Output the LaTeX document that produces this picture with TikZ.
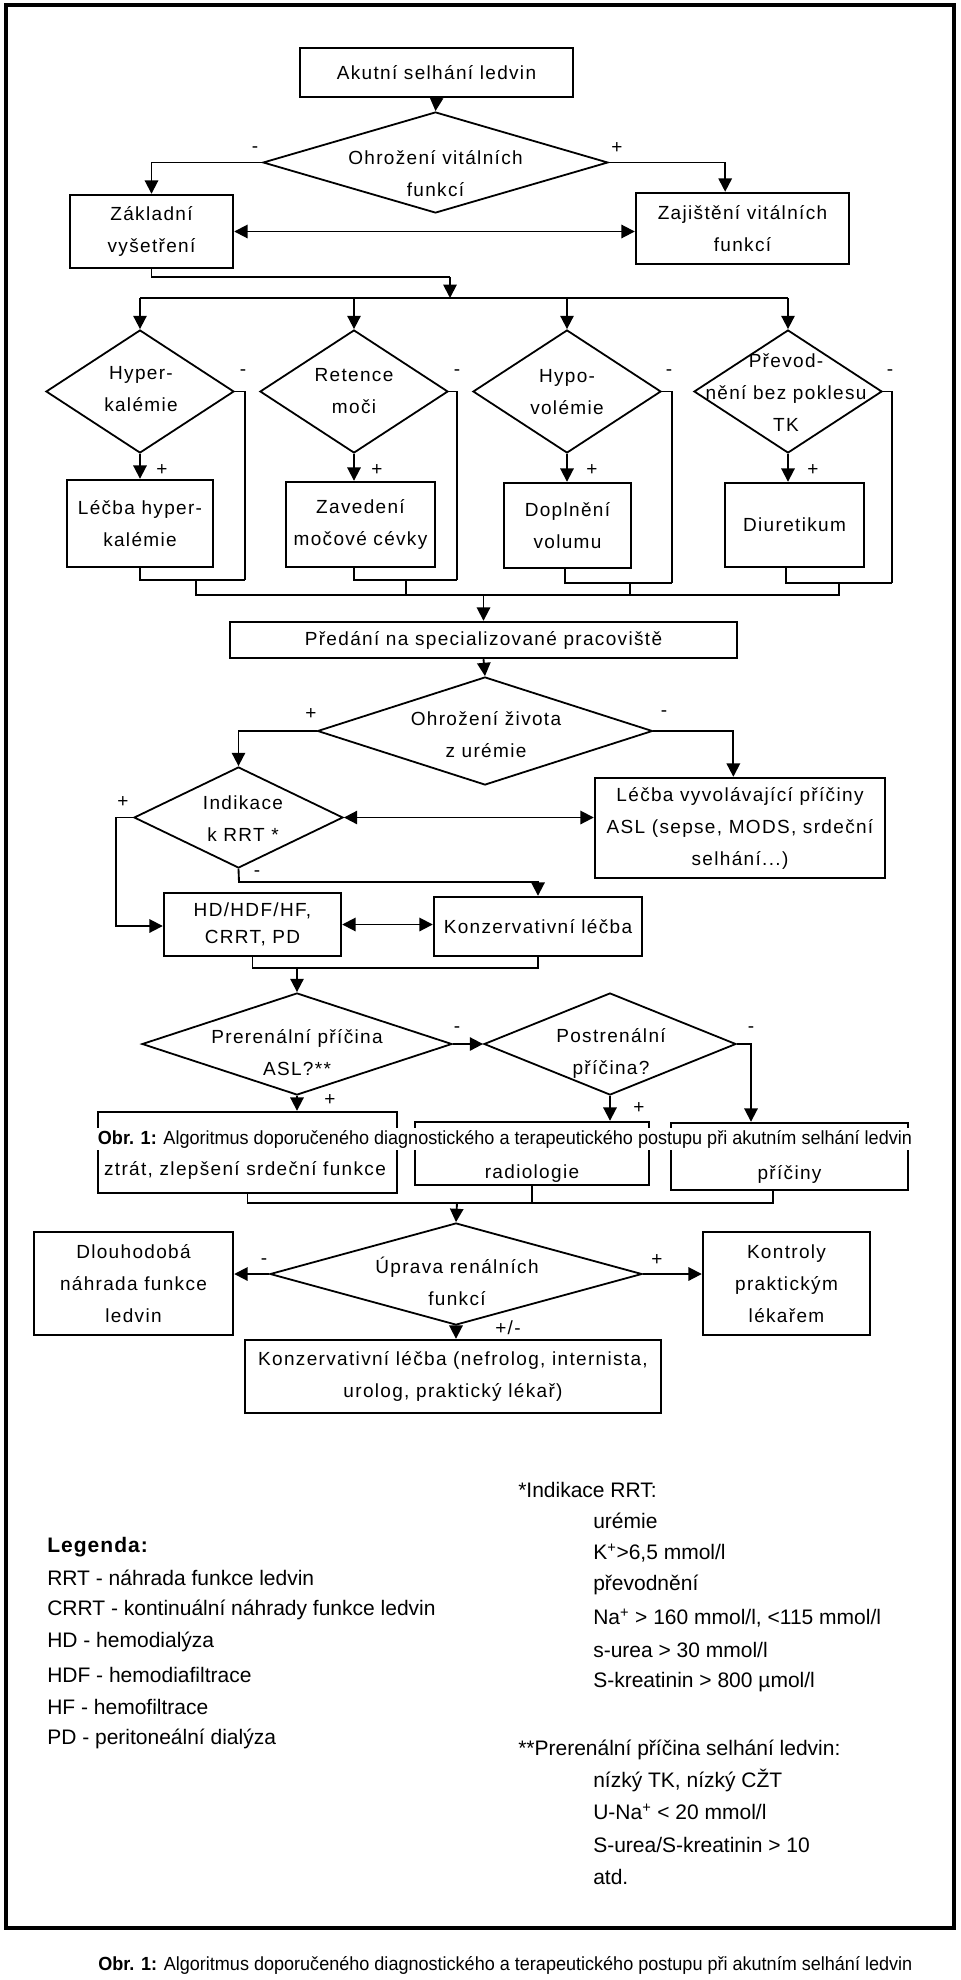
\documentclass[tikz,border=0pt]{standalone}
\usepackage{fontspec}
\setmainfont{Liberation Sans}
\newfontfamily\chartfam{Liberation Sans}[LetterSpace=7]
\newfontfamily\capfam{Liberation Sans}[FakeStretch=0.95]
\usetikzlibrary{shapes.geometric,arrows.meta}
\newcommand\chartfnt{\chartfam\fontsize{14.25pt}{24pt}\selectfont}
\newcommand\charttight{\chartfam\fontsize{14.25pt}{20pt}\selectfont}
\newcommand\legfnt{\fontsize{15.75pt}{20pt}\selectfont}
\newcommand\capfnt{\capfam\fontsize{14.25pt}{18pt}\selectfont}
\begin{document}
\begin{tikzpicture}[x=0.75pt,y=-0.75pt,
  bx/.style 2 args={draw, rectangle, line width=1.8pt, minimum width=#1*0.75pt, minimum height=#2*0.75pt, inner sep=0pt, align=center, font=\chartfnt},
  dia/.style 2 args={draw, diamond, line width=1.35pt, minimum width=#1*0.75pt, minimum height=#2*0.75pt, inner sep=0pt},
  dtx/.style={align=center, font=\chartfnt, inner sep=0pt},
  lbl/.style={font=\chartfnt, inner sep=0pt},
  con/.style={line width=1.4pt},
  arr/.style={con, -{Triangle[length=10pt,width=10pt]}},
  dar/.style={con, {Triangle[length=10pt,width=10pt]}-{Triangle[length=10pt,width=10pt]}},
  leg/.style={anchor=west, font=\legfnt, inner sep=0pt},
  capn/.style={font=\capfnt, inner sep=0pt}]
\useasboundingbox (0,0) rectangle (960,1980);
\fill[white] (0,0) rectangle (960,1980);
\draw[line width=3pt] (5.5,5.5) rectangle (954,1928);

% --- top part
\node[bx={273}{49}] (akut) at (436.5,72.5) {Akutní selhání ledvin};
\node[dia={345}{101}] (d1) at (435.5,162.5) {};
\node[dtx] (d1t) at (435.5,174) {Ohrožení vitálních\\funkcí};
\node[bx={163}{73}] (zak) at (151.5,231.5) {Základní\\vyšetření};
\node[bx={213}{71}] (zaj) at (742.5,228.5) {Zajištění vitálních\\funkcí};
\node[lbl] (l1) at (255,150) {-};
\node[lbl] (l2) at (617,148) {+};
\draw[arr] (akut.south) -- (d1.north);
\draw[arr] (d1.west) -| (zak.north);
\draw[arr] (d1.east) -| ([xshift=-13pt]zaj.north);
\draw[dar] (zak.east) -- (zak.east -| zaj.west);

\coordinate (j1) at (450,277);
\coordinate (bus) at (450,298);
\coordinate (busL) at (140,298);
\coordinate (busR) at (788,298);
\draw[con] (zak.south) |- (j1);
\draw[arr] (j1) -- (bus);
\draw[con] (busL) -- (busR);

% --- row of diamonds
\node[dia={188}{123}] (hk) at (140,391.5) {};
\node[dia={188}{123}] (rm) at (354,391.5) {};
\node[dia={188}{123}] (hv) at (567,391.5) {};
\node[dia={188}{123}] (pr) at (788,391.5) {};
\node[dtx] (hkt) at (141,389) {Hyper-\\kalémie};
\node[dtx] (rmt) at (354,391) {Retence\\moči};
\node[dtx] (hvt) at (567,392) {Hypo-\\volémie};
\node[dtx] (prt) at (786,393) {Převod-\\nění bez poklesu\\TK};
\draw[arr] (busL) -- (hk.north);
\draw[arr] (rm.north |- busL) -- (rm.north);
\draw[arr] (hv.north |- busL) -- (hv.north);
\draw[arr] (busR) -- (pr.north);

\node[lbl] (m1t) at (243,373) {-};
\node[lbl] (m2t) at (457,373) {-};
\node[lbl] (m3t) at (669,373) {-};
\node[lbl] (m4t) at (890,373) {-};
\node[lbl] (p1t) at (162,470) {+};
\node[lbl] (p2t) at (377,470) {+};
\node[lbl] (p3t) at (592,470) {+};
\node[lbl] (p4t) at (813,470) {+};

\node[bx={146}{87}] (lh) at (140,523.5) {Léčba hyper-\\kalémie};
\node[bx={149}{85}] (zc) at (360.5,524.5) {Zavedení\\močové cévky};
\node[bx={127}{85}] (dv) at (567.5,525.5) {Doplnění\\volumu};
\node[bx={139}{84}] (di) at (794.5,525) {Diuretikum};
\draw[arr] (hk.south) -- (hk.south |- lh.north);
\draw[arr] (rm.south) -- (rm.south |- zc.north);
\draw[arr] (hv.south) -- (hv.south |- dv.north);
\draw[arr] (pr.south) -- (pr.south |- di.north);

\coordinate (m1) at (245,580);
\coordinate (m2) at (457,580);
\coordinate (m3) at (672,583);
\coordinate (m4) at (892,583);
\draw[con] (hk.east) -| (m1);
\draw[con] (rm.east) -| (m2);
\draw[con] (hv.east) -| (m3);
\draw[con] (pr.east) -| (m4);
\draw[con] (lh.south) |- (m1);
\draw[con] ([xshift=-4.9pt]zc.south) |- (m2);
\draw[con] ([xshift=-2pt]dv.south) |- (m3);
\draw[con] ([xshift=-6.4pt]di.south) |- (m4);
\coordinate (b2L) at (196,595);
\coordinate (q2) at (406,595);
\coordinate (q3) at (630,595);
\coordinate (b2R) at (839,595);
\draw[con] (b2L |- m1) -- (b2L) -- (b2R) -- (b2R |- m4);
\draw[con] (q2 |- m2) -- (q2);
\draw[con] (q3 |- m3) -- (q3);

\node[bx={507}{36}] (pred) at (483.5,640) {Předání na specializované pracoviště};
\draw[arr] (pred.north |- b2L) -- (pred.north);

% --- uremia part
\node[dia={335}{108}] (d3) at (485,731) {};
\node[dtx] (d3t) at (486,735) {Ohrožení života\\z urémie};
\node[lbl] (l3) at (311,714) {+};
\node[lbl] (l4) at (664,714) {-};
\draw[arr] (pred.south) -- (d3.north);

\node[dia={209}{101}] (ik) at (238.5,817.5) {};
\node[dtx] (ikt) at (243,819) {Indikace\\k RRT *};
\node[bx={290}{100}] (lv) at (740,828) {Léčba vyvolávající příčiny\\ASL (sepse, MODS, srdeční\\selhání...)};
\draw[arr] (d3.west) -| (ik.north);
\draw[arr] (d3.east) -| ([xshift=-5pt]lv.north);
\draw[dar] (ik.east) -- (ik.east -| lv.west);

\node[bx={177}{63}, font=\charttight] (hd) at (252.5,924.5) {HD/HDF/HF,\\CRRT, PD};
\node[bx={208}{59}] (kl) at (538,926.5) {Konzervativní léčba};
\node[lbl] (l5) at (123,802) {+};
\node[lbl] (l6) at (257,874) {-};
\coordinate (k1) at (116,926);
\coordinate (k2) at (239,882);
\draw[arr] (ik.west) -| (k1) -- (k1 -| hd.west);
\draw[arr] (ik.south) -- (k2) -| (kl.north);
\draw[dar] (hd.east) -- (hd.east -| kl.west);

\coordinate (k3) at (297,968);
\draw[con] (hd.south) |- (kl.south |- k3) -- (kl.south);

% --- causes
\node[dia={310}{102}] (d4) at (297,1044) {};
\node[dtx] (d4t) at (297,1053) {Prerenální příčina\\ASL?**};
\node[dia={252}{102}] (d5) at (610,1044) {};
\node[dtx] (d5t) at (611,1053) {Postrenální\\příčina?};
\draw[arr] (k3) -- (d4.north);
\draw[arr] (d4.east) -- (d5.west);
\node[lbl] (l7) at (457,1030) {-};
\node[lbl] (l8) at (751,1030) {-};
\node[lbl] (l9) at (330,1100) {+};
\node[lbl] (l10) at (639,1108) {+};

\node[bx={299}{81}] (b1) at (247.5,1152.5) {};
\node[bx={234}{63}] (b2) at (532,1153.5) {};
\node[bx={237}{67}] (b3) at (789.5,1156.5) {};
\node[dtx] (b1t) at (245,1170) {ztrát, zlepšení srdeční funkce};
\node[dtx] (b2t) at (532,1174) {radiologie};
\node[dtx] (b3t) at (789.5,1174) {příčiny};
\coordinate (k4) at (751,1044);
\draw[arr] (d5.east) -- (k4) -- (k4 |- b3.north);
\draw[arr] (d4.south) -- (d4.south |- b1.north);
\draw[arr] (d5.south) -- (d5.south |- b2.north);

\coordinate (k5) at (457,1203);
\coordinate (k6) at (773,1203);
\draw[con] (b1.south) |- (k6) -- (k6 |- b3.south);
\draw[con] (b2.south) -- (b2.south |- k6);

\node[capn, fill=white, anchor=west, inner xsep=2pt, inner ysep=1.5pt] (cap1) at (95,1139) {\textbf{Obr. 1:} Algoritmus doporučeného diagnostického a terapeutického postupu při akutním selhání ledvin};

% --- renal recovery
\node[dia={372}{102}] (d6) at (456,1274) {};
\node[dtx] (d6t) at (457,1281) {Úprava renálních\\funkcí};
\draw[arr] (k5) -- (d6.north);
\node[bx={199}{103}] (dl) at (133.5,1283.5) {Dlouhodobá\\náhrada funkce\\ledvin};
\node[bx={167}{103}] (kp) at (786.5,1283.5) {Kontroly\\praktickým\\lékařem};
\draw[arr] (d6.west) -- (d6.west -| dl.east);
\draw[arr] (d6.east) -- (d6.east -| kp.west);
\node[lbl] (l11) at (264,1262) {-};
\node[lbl] (l12) at (657,1260) {+};
\node[lbl] (l13) at (508,1328) {+/-};
\node[bx={416}{73}] (kn) at (453,1376.5) {Konzervativní léčba (nefrolog, internista,\\urolog, praktický lékař)};
\draw[arr] (d6.south) -- (d6.south |- kn.north);

% --- legend
\node[leg] (lg0) at (47,1547) {\textbf{\addfontfeature{LetterSpace=5}Legenda:}};
\node[leg] (lg1) at (47,1578) {RRT - náhrada funkce ledvin};
\node[leg] (lg2) at (47,1610) {CRRT - kontinuální náhrady funkce ledvin};
\node[leg] (lg3) at (47,1642) {HD - hemodialýza};
\node[leg] (lg4) at (47,1675) {HDF - hemodiafiltrace};
\node[leg] (lg5) at (47,1707) {HF - hemofiltrace};
\node[leg] (lg6) at (47,1739) {PD - peritoneální dialýza};

\node[leg] (ri0) at (518,1490) {*Indikace RRT:};
\node[leg] (ri1) at (593,1521) {urémie};
\node[leg] (ri2) at (593,1553) {K\textsuperscript{+}>6,5 mmol/l};
\node[leg] (ri3) at (593,1585) {převodnění};
\node[leg] (ri4) at (593,1618) {Na\textsuperscript{+} > 160 mmol/l, <115 mmol/l};
\node[leg] (ri5) at (593,1650) {s-urea > 30 mmol/l};
\node[leg] (ri6) at (593,1682) {S-kreatinin > 800 µmol/l};
\node[leg] (rp0) at (518,1750) {**Prerenální příčina selhání ledvin:};
\node[leg] (rp1) at (593,1780) {nízký TK, nízký CŽT};
\node[leg] (rp2) at (593,1812) {U-Na\textsuperscript{+} < 20 mmol/l};
\node[leg] (rp3) at (593,1845) {S-urea/S-kreatinin > 10};
\node[leg] (rp4) at (593,1877) {atd.};

\node[capn, anchor=west] (cap2) at (98,1965) {\textbf{Obr. 1:} Algoritmus doporučeného diagnostického a terapeutického postupu při akutním selhání ledvin};
\end{tikzpicture}
\end{document}
